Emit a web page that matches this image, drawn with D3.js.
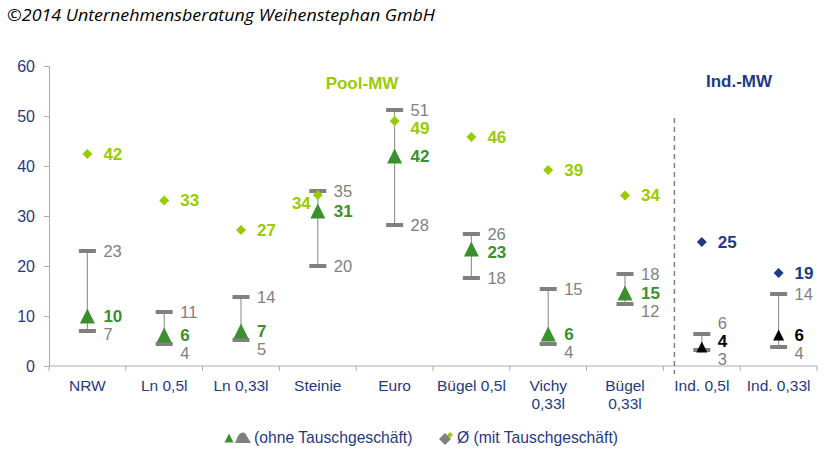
<!DOCTYPE html>
<html><head><meta charset="utf-8">
<script src="https://cdn.jsdelivr.net/npm/d3@7"></script>
<style>html,body{margin:0;padding:0;background:#fff}svg{display:block}</style>
</head><body><svg id="c" width="832" height="456"></svg>
<script>
// ---- data ----
const categories = ["NRW","Ln 0,5l","Ln 0,33l","Steinie","Euro","Bügel 0,5l","Vichy\n0,33l","Bügel\n0,33l","Ind. 0,5l","Ind. 0,33l"];
const groups = ["pool","pool","pool","pool","pool","pool","pool","pool","ind","ind"];
const withSwap = [42.4, 33.1, 27.2, 34.2, 49.0, 45.8, 39.2, 34.1, 24.8, 18.6];   // Ø (mit Tauschgeschäft)
const withoutSwap = [10.0, 6.2, 7.0, 31.0, 42.0, 23.4, 6.4, 14.6, 3.8, 6.2];    // Ø (ohne Tauschgeschäft)
const minVals = [7.0, 4.4, 5.2, 20.0, 28.2, 17.6, 4.4, 12.4, 3.2, 3.8];
const maxVals = [23.0, 10.8, 13.8, 35.0, 51.2, 26.4, 15.4, 18.4, 6.4, 14.4];
const yTicks = [0, 10, 20, 30, 40, 50, 60];
const groupTitles = ["Pool-MW", "Ind.-MW"];
const legendLabels = ["(ohne Tauschgeschäft)", "Ø (mit Tauschgeschäft)"];
const titleText = "©2014 Unternehmensberatung Weihenstephan GmbH";

// ---- styles ----
const lime = "#99CC00", green = "#3A8F2E", navy = "#1F3A84", gray = "#808080", grayTxt = "#7F7F7F", axisCol = "#A9AABB";
const font = "'Liberation Sans', Arial, sans-serif";

const svg = d3.select("#c");
const x = d3.scaleBand().domain(d3.range(categories.length)).range([49, 817]).padding(0);
const y = d3.scaleLinear().domain([0, 60]).range([366, 66]);
const fmt = d3.format(".0f");

// title
svg.append("text").attr("x", 7).attr("y", 21).attr("font-family", "'Open Sans', sans-serif")
  .attr("font-style", "italic").attr("font-size", 17).attr("fill", "#000")
  .attr("textLength", 428).attr("lengthAdjust", "spacingAndGlyphs").text(titleText);

// y axis
const yAxis = svg.append("g").attr("transform", "translate(49,0)")
  .call(d3.axisLeft(y).tickValues(yTicks).tickSize(5).tickPadding(9));
yAxis.select(".domain").attr("stroke", axisCol);
yAxis.selectAll(".tick line").attr("stroke", axisCol);
yAxis.selectAll(".tick text").attr("fill", navy).attr("font-size", 16).attr("font-family", font);

// x axis
const xAxis = svg.append("g").attr("transform", "translate(0,366)");
xAxis.append("line").attr("x1", 49).attr("x2", 817).attr("stroke", axisCol);
xAxis.selectAll("line.t").data(d3.range(categories.length + 1)).join("line").attr("class", "t")
  .attr("x1", i => 49 + i * x.bandwidth()).attr("x2", i => 49 + i * x.bandwidth())
  .attr("y1", 0).attr("y2", 5).attr("stroke", axisCol);
const xl = xAxis.selectAll("text").data(categories).join("text")
  .attr("x", (d, i) => x(i) + x.bandwidth() / 2).attr("y", 25)
  .attr("text-anchor", "middle").attr("font-family", font).attr("font-size", 15.5).attr("fill", navy);
xl.each(function(d) {
  const lines = d.split("\n");
  d3.select(this).selectAll("tspan").data(lines).join("tspan")
    .attr("x", d3.select(this).attr("x")).attr("dy", (l, j) => j === 0 ? 0 : 18).text(l => l);
});

// separator dashed line
const sepX = x(8) + 11;
svg.append("line").attr("x1", sepX).attr("x2", sepX).attr("y1", 118).attr("y2", 374)
  .attr("stroke", gray).attr("stroke-width", 1.5).attr("stroke-dasharray", "5,4");

// group titles
svg.append("text").attr("x", 362).attr("y", 89).attr("text-anchor", "middle").attr("font-family", font)
  .attr("font-weight", "bold").attr("font-size", 17).attr("fill", lime).text(groupTitles[0]);
svg.append("text").attr("x", 739).attr("y", 87).attr("text-anchor", "middle").attr("font-family", font)
  .attr("font-weight", "bold").attr("font-size", 17).attr("fill", navy).text(groupTitles[1]);

const triPath = (w, h) => `M0,${-h/2}L${w/2},${h/2}L${-w/2},${h/2}Z`;
const diaPath = r => `M0,${-r}L${r},0L0,${r}L${-r},0Z`;

const G = 18, bottomLimit = 359;
categories.forEach((c, i) => {
  const cx = x(i) + x.bandwidth() / 2;
  const isInd = groups[i] === "ind";
  const g = svg.append("g");
  const yMin = y(minVals[i]), yMax = y(maxVals[i]), yT = y(withoutSwap[i]), yD = y(withSwap[i]);
  // whisker
  g.append("line").attr("x1", cx).attr("x2", cx).attr("y1", yMax).attr("y2", yMin).attr("stroke", "#999").attr("stroke-width", 1.2);
  [yMin, yMax].forEach(v => g.append("rect").attr("x", cx - 8.5).attr("y", v - 2).attr("width", 17).attr("height", 4).attr("fill", gray));
  // triangle
  if (isInd) g.append("path").attr("d", triPath(11, 11)).attr("transform", `translate(${cx},${yT})`).attr("fill", "#000");
  else g.append("path").attr("d", triPath(15, 15)).attr("transform", `translate(${cx},${yT})`).attr("fill", green);
  // diamond
  g.append("path").attr("d", diaPath(5)).attr("transform", `translate(${cx},${yD})`).attr("fill", isInd ? navy : lime);

  // label layout: max / triangle / min stacked with a minimum gap
  let ly = [yMax, yT, yMin];
  for (let k = 1; k < 3; k++) ly[k] = Math.max(ly[k], ly[k - 1] + G);
  if (ly[2] > bottomLimit) {
    ly[2] = bottomLimit;
    for (let k = 1; k >= 0; k--) ly[k] = Math.min(ly[k], ly[k + 1] - G);
  }
  const lx = cx + 16;
  const lab = (xx, yy, txt, col, bold, anchor, fs) => g.append("text").attr("x", xx).attr("y", yy).attr("dy", "0.35em")
    .attr("text-anchor", anchor || "start").attr("font-family", font).attr("font-size", fs || 17)
    .attr("font-weight", bold ? "bold" : "normal").attr("fill", col).text(txt);
  lab(lx, ly[0], fmt(maxVals[i]), grayTxt, false, null, 16.5);
  lab(lx, ly[2], fmt(minVals[i]), grayTxt, false, null, 16.5);
  lab(lx, ly[1], fmt(withoutSwap[i]), isInd ? "#000" : green, true);
  const dCol = isInd ? navy : lime;
  if (Math.abs(yD - yMax) < 8) {
    lab(cx - 7, yD + 8, fmt(withSwap[i]), dCol, true, "end");
  } else {
    let dy = yD;
    if (yD > ly[0] && yD - ly[0] < G) dy = ly[0] + G;
    lab(lx, dy, fmt(withSwap[i]), dCol, true);
  }
});

// legend
const lg = svg.append("g");
lg.append("path").attr("d", triPath(9, 9)).attr("transform", "translate(229,438)").attr("fill", green);
lg.append("path").attr("d", "M235,443 L238,436 Q241,431 245,433 L251,443 Z").attr("fill", gray);
lg.append("text").attr("x", 254).attr("y", 443).attr("font-family", font).attr("font-size", 15.7).attr("fill", navy).text(legendLabels[0]);
lg.append("path").attr("d", diaPath(6)).attr("transform", "translate(445,439)").attr("fill", gray);
lg.append("path").attr("d", "M447,435 L450,432 L453,435 L450,438 Z").attr("fill", lime);
lg.append("text").attr("x", 457).attr("y", 443).attr("font-family", font).attr("font-size", 15.7).attr("fill", navy).text(legendLabels[1]);
</script></body></html>
